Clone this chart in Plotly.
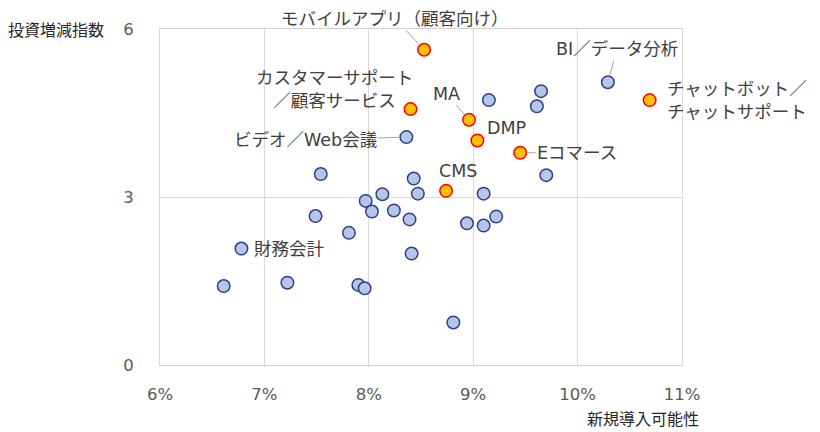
import plotly.graph_objects as go

# 注目領域（オレンジ）
focus_names = ["モバイルアプリ（顧客向け）", "カスタマーサポート<br>／顧客サービス", "MA", "DMP",
               "Eコマース", "CMS", "チャットボット／<br>チャットサポート"]
focus_x = [0.0853, 0.0840, 0.0896, 0.0904, 0.0945, 0.0874, 0.1069]
focus_y = [5.63, 4.57, 4.38, 4.01, 3.79, 3.11, 4.73]

# その他（青）
other_names = ["BI／データ分析", "", "", "", "ビデオ／Web会議", "", "", "", "", "", "", "", "", "",
               "", "", "", "", "", "", "財務会計", "", "", "", "", "", ""]
other_x = [0.1029, 0.0965, 0.0961, 0.0915, 0.0836, 0.0970, 0.0843, 0.0754, 0.0813, 0.0847,
           0.0910, 0.0797, 0.0803, 0.0824, 0.0749, 0.0839, 0.0894, 0.0910, 0.0922, 0.0781,
           0.0678, 0.0841, 0.0661, 0.0722, 0.0790, 0.0796, 0.0881]
other_y = [5.05, 4.89, 4.62, 4.73, 4.07, 3.39, 3.33, 3.41, 3.05, 3.06,
           3.06, 2.93, 2.74, 2.76, 2.66, 2.60, 2.53, 2.49, 2.65, 2.36,
           2.08, 1.99, 1.41, 1.47, 1.43, 1.37, 0.76]

# ラベル位置（ピクセルのずらし量, 引き出し線の有無, 左揃え）
label_pos = {
    "モバイルアプリ（顧客向け）": (-29, -31, True, False),
    "BI／データ分析": (9, -33, True, False),
    "ビデオ／Web会議": (-101, 3, True, False),
    "MA": (-23, -26, True, False),
    "DMP": (29, -12, True, False),
    "Eコマース": (57, 0, True, False),
    "カスタマーサポート<br>／顧客サービス": (-76, -20, False, False),
    "CMS": (12, -20, False, False),
    "チャットボット／<br>チャットサポート": (15, 0, False, True),
    "財務会計": (11, 0, False, True),
}

font = "DejaVu Sans, Noto Sans CJK JP"
cjk = "Noto Sans CJK JP"

fig = go.Figure()

fig.add_trace(go.Scatter(
    x=other_x, y=other_y, mode="markers",
    marker=dict(size=12.5, color="#b4c7e7", line=dict(color="#2f3f8f", width=1.5)),
    hoverinfo="skip", showlegend=False,
))
fig.add_trace(go.Scatter(
    x=focus_x, y=focus_y, mode="markers",
    marker=dict(size=12.5, color="#ffc000", line=dict(color="#ff0000", width=1.5)),
    hoverinfo="skip", showlegend=False,
))

#Labels
label_font = dict(family=font, size=17.5, color="#404040")
for names, xs, ys in [(focus_names, focus_x, focus_y), (other_names, other_x, other_y)]:
    for n, x, y in zip(names, xs, ys):
        if n not in label_pos:
            continue
        dx, dy, leader, left = label_pos[n]
        if leader:
            fig.add_annotation(x=x, y=y, text=n, showarrow=True, ax=dx, ay=dy,
                               arrowhead=0, arrowwidth=1, arrowcolor="#a6a6a6", standoff=7,
                               font=label_font)
        elif left:
            fig.add_annotation(x=x, y=y, text=n, showarrow=False, xanchor="left", align="left",
                               xshift=dx, yshift=-dy, font=label_font)
        else:
            fig.add_annotation(x=x, y=y, text=n, showarrow=False, align="center",
                               xshift=dx, yshift=-dy, font=label_font)

#Axis titles
fig.add_annotation(x=0, y=1, xref="paper", yref="paper", text="投資増減指数", showarrow=False,
                   xanchor="right", yanchor="middle", xshift=-54,
                   font=dict(family=cjk, size=16, color="#262626"))
fig.add_annotation(x=1, y=0, xref="paper", yref="paper", text="新規導入可能性", showarrow=False,
                   xanchor="right", yanchor="middle", xshift=19, yshift=-53,
                   font=dict(family=cjk, size=16, color="#262626"))

fig.update_xaxes(range=[0.06, 0.11], dtick=0.01, tickformat=".0%",
                 showgrid=True, gridcolor="#d9d9d9", gridwidth=1,
                 showline=True, linecolor="#d0d0d0", mirror=True, zeroline=False,
                 ticks="", ticklabelstandoff=14,
                 tickfont=dict(family=font, size=16.5, color="#595959"))
fig.update_yaxes(range=[0, 6], tickvals=[0, 3, 6],
                 showgrid=True, gridcolor="#d9d9d9", gridwidth=1,
                 showline=True, linecolor="#d9d9d9", mirror=True, zeroline=False,
                 ticks="", ticklabelstandoff=22,
                 tickfont=dict(family=font, size=16.5, color="#595959"))

# ページ余白(8px)の分だけ小さくする
fig.update_layout(
    width=812, height=424,
    margin=dict(l=152, r=138, t=19, b=67),
    paper_bgcolor="white", plot_bgcolor="white",
)

fig.write_html("out.html")
